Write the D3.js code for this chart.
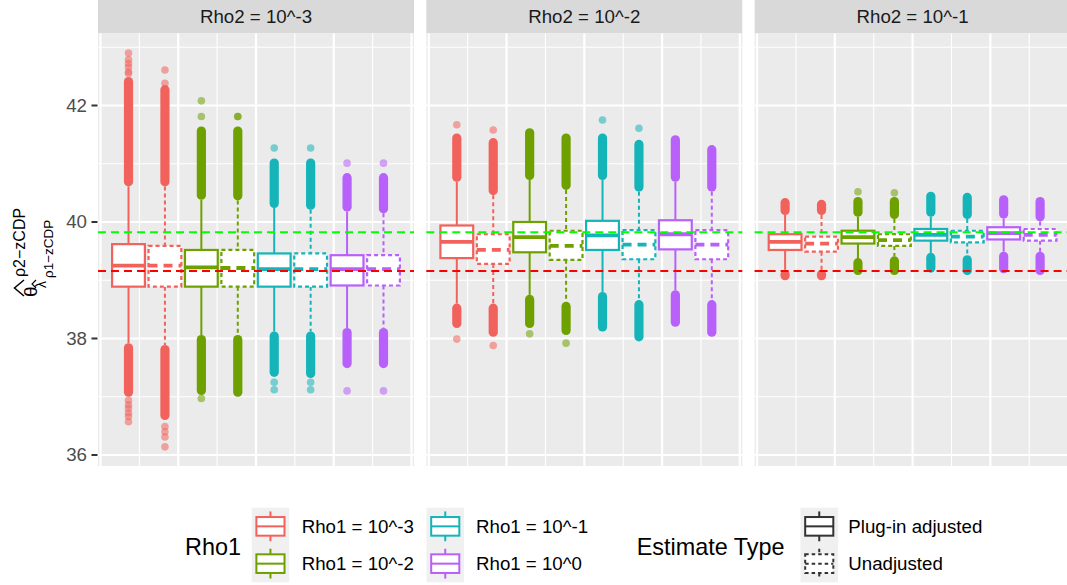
<!DOCTYPE html>
<html>
<head>
<meta charset="utf-8">
<script src="https://cdn.jsdelivr.net/npm/d3@7/dist/d3.min.js"></script>
<style>
  body { margin: 0; background: #fff; }
  text { font-family: "Liberation Sans", Arial, sans-serif; }
</style>
</head>
<body>
<div id="chart"></div>
<script>
// facet strips, fill groups and linetype groups
const panels = ["Rho2 = 10^-3", "Rho2 = 10^-2", "Rho2 = 10^-1"]
const rho1Levels = ["Rho1 = 10^-3", "Rho1 = 10^-2", "Rho1 = 10^-1", "Rho1 = 10^0"]
const estimateTypes = ["Plug-in adjusted", "Unadjusted"]
const rho1Colors = ["#F2625D", "#6EA000", "#14B4B9", "#B860FA"]
const yTicks = [36, 38, 40, 42]
const yMinor = [37, 39, 41, 43]
const refGreen = 39.823
const refRed = 39.159

// box stats per panel, order: rho1 x type -> [lower whisker, q1, median, q3, upper whisker]
const stats_rho2_3 = [
  [37.92, 38.89, 39.25, 39.62, 40.61], [37.89, 38.89, 39.25, 39.59, 40.61],
  [38.06, 38.89, 39.22, 39.52, 40.38], [38.06, 38.89, 39.21, 39.52, 40.37],
  [38.12, 38.89, 39.19, 39.46, 40.24], [38.12, 38.89, 39.19, 39.46, 40.21],
  [38.18, 38.91, 39.19, 39.43, 40.18], [38.18, 38.91, 39.19, 39.43, 40.15]
]
const stats_rho2_2 = [
  [38.60, 39.38, 39.66, 39.94, 40.69], [38.60, 39.28, 39.52, 39.79, 40.46],
  [38.75, 39.48, 39.74, 40.00, 40.72], [38.63, 39.35, 39.59, 39.85, 40.55],
  [38.80, 39.52, 39.77, 40.02, 40.72], [38.66, 39.36, 39.61, 39.86, 40.52],
  [38.83, 39.53, 39.79, 40.03, 40.69], [38.66, 39.36, 39.61, 39.86, 40.52]
]
const stats_rho2_1 = [
  [39.18, 39.52, 39.66, 39.79, 40.12], [39.18, 39.49, 39.63, 39.75, 40.12],
  [39.38, 39.63, 39.74, 39.85, 40.09], [39.41, 39.59, 39.69, 39.79, 40.05],
  [39.47, 39.68, 39.78, 39.88, 40.09], [39.43, 39.65, 39.75, 39.85, 40.05],
  [39.49, 39.70, 39.81, 39.91, 40.06], [39.49, 39.68, 39.78, 39.88, 40.01]
]

// dense outlier columns [low, high], upper then lower
const upperDense_rho2_3 = [[40.61, 42.49], [40.61, 42.35], [40.38, 41.64], [40.37, 41.64], [40.24, 41.09], [40.21, 41.09], [40.18, 40.84], [40.15, 40.84]]
const lowerDense_rho2_3 = [[37.00, 37.92], [36.60, 37.89], [37.03, 38.06], [37.00, 38.06], [37.34, 38.12], [37.32, 38.12], [37.49, 38.18], [37.49, 38.18]]
const upperDense_rho2_2 = [[40.69, 41.52], [40.46, 41.44], [40.72, 41.61], [40.55, 41.52], [40.72, 41.52], [40.52, 41.41], [40.69, 41.49], [40.52, 41.32]]
const lowerDense_rho2_2 = [[38.18, 38.60], [38.03, 38.60], [38.18, 38.75], [38.06, 38.63], [38.12, 38.80], [37.95, 38.66], [38.20, 38.83], [38.03, 38.66]]
const upperDense_rho2_1 = [[40.12, 40.41], [40.12, 40.38], [40.09, 40.43], [40.05, 40.43], [40.09, 40.52], [40.05, 40.50], [40.06, 40.46], [40.01, 40.43]]
const lowerDense_rho2_1 = [[39.00, 39.18], [39.00, 39.18], [39.09, 39.38], [39.09, 39.41], [39.13, 39.47], [39.09, 39.43], [39.12, 39.49], [39.09, 39.49]]

// isolated outliers
const sparse_rho2_3 = [
  [42.90, 42.79, 42.72, 42.66, 42.58, 42.55, 36.94, 36.86, 36.80, 36.72, 36.66, 36.57],
  [42.61, 42.38, 36.49, 36.40, 36.31, 36.14],
  [42.08, 41.81, 36.97],
  [41.81, 41.81],
  [41.27, 37.25, 37.12],
  [41.27, 37.25, 37.12],
  [41.01, 37.10],
  [41.01, 37.10]
]
const sparse_rho2_2 = [[41.67, 37.99], [41.58, 37.88], [38.08], [37.92], [41.75], [41.61], [], []]
const sparse_rho2_1 = [[], [], [40.52], [40.50], [], [], [], []]

const panelStats = [stats_rho2_3, stats_rho2_2, stats_rho2_1]
const panelUpper = [upperDense_rho2_3, upperDense_rho2_2, upperDense_rho2_1]
const panelLower = [lowerDense_rho2_3, lowerDense_rho2_2, lowerDense_rho2_1]
const panelSparse = [sparse_rho2_3, sparse_rho2_2, sparse_rho2_1]

const w = 1067
const h = 585
const panelTop = 33.5
const panelBottom = 466
const stripTop = 0

const svg = d3.select('#chart').append('svg')
  .attr('width', w).attr('height', h)
  .style('display', 'block')
svg.append('rect').attr('width', w).attr('height', h).attr('fill', '#fff')

const xPanel = d3.scaleBand().domain(panels).range([98, 1070.6]).paddingInner(0.03747).paddingOuter(0)
const pw = xPanel.bandwidth()
const y = d3.scaleLinear().domain([35.811, 43.236]).range([panelBottom, panelTop])
const xIn = d3.scaleLinear().domain([-1.016, 1.016]).range([0, pw])

const groups = []
rho1Levels.forEach((r, i) => estimateTypes.forEach((t, j) => groups.push({ rho1: r, type: t, ci: i, dashed: j === 1 })))
const dodge = d3.scaleBand().domain(d3.range(groups.length)).range([xIn(-0.937), xIn(0.937)])
const color = d3.scaleOrdinal().domain(rho1Levels).range(rho1Colors)
const boxW = dodge.bandwidth() * 0.9
const ptR = 3.8

panels.forEach((p, pi) => {
  const g = svg.append('g').attr('transform', 'translate(' + xPanel(p) + ',0)')
  // strip
  g.append('rect').attr('x', 0).attr('y', stripTop).attr('width', pw).attr('height', panelTop - stripTop).attr('fill', '#D9D9D9')
  g.append('text').attr('x', pw / 2).attr('y', (panelTop + stripTop) / 2).attr('text-anchor', 'middle')
    .attr('dominant-baseline', 'central').attr('font-size', 18.7).attr('fill', '#1A1A1A').text(p)
  // panel
  g.append('rect').attr('x', 0).attr('y', panelTop).attr('width', pw).attr('height', panelBottom - panelTop).attr('fill', '#EBEBEB')
  const pg = g.append('g')
  pg.selectAll('.hminor').data(yMinor).enter().append('line')
    .attr('x1', 0).attr('x2', pw).attr('y1', d => y(d)).attr('y2', d => y(d))
    .attr('stroke', '#fff').attr('stroke-width', 1.1)
  pg.selectAll('.vminor').data([-0.75, -0.25, 0.25, 0.75]).enter().append('line')
    .attr('x1', d => xIn(d)).attr('x2', d => xIn(d)).attr('y1', panelTop).attr('y2', panelBottom)
    .attr('stroke', '#fff').attr('stroke-width', 1.1)
  pg.selectAll('.hmajor').data(yTicks).enter().append('line')
    .attr('x1', 0).attr('x2', pw).attr('y1', d => y(d)).attr('y2', d => y(d))
    .attr('stroke', '#fff').attr('stroke-width', 2.2)
  pg.selectAll('.vmajor').data([-1, -0.5, 0, 0.5, 1]).enter().append('line')
    .attr('x1', d => xIn(d)).attr('x2', d => xIn(d)).attr('y1', panelTop).attr('y2', panelBottom)
    .attr('stroke', '#fff').attr('stroke-width', 2.2)

  groups.forEach((gr, k) => {
    const cx = dodge(k) + dodge.bandwidth() / 2
    const col = color(gr.rho1)
    const s = panelStats[pi][k]
    const bg = pg.append('g')
    // dense outlier columns
    ;[panelUpper[pi][k], panelLower[pi][k]].forEach(r => {
      bg.append('rect').attr('x', cx - ptR - 0.8).attr('width', 2 * ptR + 1.6)
        .attr('y', y(r[1])).attr('height', Math.max(0, y(r[0]) - y(r[1])))
        .attr('rx', ptR + 0.8).attr('fill', col)
    })
    bg.selectAll('circle').data(panelSparse[pi][k]).enter().append('circle')
      .attr('cx', cx).attr('cy', d => y(d)).attr('r', ptR).attr('fill', col).attr('opacity', 0.55)
    const dash = gr.dashed ? '4,3' : null
    // whiskers
    bg.append('line').attr('x1', cx).attr('x2', cx).attr('y1', y(s[4])).attr('y2', y(s[3]))
      .attr('stroke', col).attr('stroke-width', 2).attr('stroke-dasharray', dash)
    bg.append('line').attr('x1', cx).attr('x2', cx).attr('y1', y(s[1])).attr('y2', y(s[0]))
      .attr('stroke', col).attr('stroke-width', 2).attr('stroke-dasharray', dash)
    bg.append('rect').attr('x', cx - boxW / 2).attr('width', boxW)
      .attr('y', y(s[3])).attr('height', y(s[1]) - y(s[3]))
      .attr('fill', '#fff').attr('stroke', col).attr('stroke-width', 2.2).attr('stroke-dasharray', dash)
    bg.append('line').attr('x1', cx - boxW / 2).attr('x2', cx + boxW / 2).attr('y1', y(s[2])).attr('y2', y(s[2]))
      .attr('stroke', col).attr('stroke-width', 3.8).attr('stroke-dasharray', gr.dashed ? '9,6' : null)
  })

  // reference lines
  ;[[refGreen, '#00FF00'], [refRed, '#FF0000']].forEach(rl => {
    pg.append('line').attr('x1', 0).attr('x2', pw).attr('y1', y(rl[0])).attr('y2', y(rl[0]))
      .attr('stroke', rl[1]).attr('stroke-width', 2).attr('stroke-dasharray', '8,5')
  })
})

// y axis
const ax = svg.append('g')
ax.selectAll('line').data(yTicks).enter().append('line')
  .attr('x1', 91.5).attr('x2', 97.5).attr('y1', d => y(d)).attr('y2', d => y(d))
  .attr('stroke', '#333333').attr('stroke-width', 2)
ax.selectAll('text').data(yTicks).enter().append('text')
  .attr('x', 87).attr('y', d => y(d)).attr('text-anchor', 'end').attr('dominant-baseline', 'central')
  .attr('font-size', 18.7).attr('fill', '#4D4D4D').text(d => d)

// y axis title: hat(theta)[hat(lambda)[rho1-zCDP]]^(rho2-zCDP)
const yt = svg.append('g').attr('transform', 'translate(37,297) rotate(-90)')
yt.append('text').attr('x', 0).attr('y', 0).attr('font-size', 19).attr('fill', '#000').text('θ')
yt.append('path').attr('d', 'M1,-13 L9,-22.5 L17,-13').attr('fill', 'none').attr('stroke', '#000').attr('stroke-width', 1.5)
yt.append('text').attr('x', 20).attr('y', -12).attr('font-size', 16).attr('fill', '#000').text('ρ2−zCDP')
yt.append('text').attr('x', 9).attr('y', 8.5).attr('font-size', 14).attr('fill', '#000').text('λ')
yt.append('path').attr('d', 'M9,-1 L13,-5 L17,-1').attr('fill', 'none').attr('stroke', '#000').attr('stroke-width', 1.1)
yt.append('text').attr('x', 19).attr('y', 15.5).attr('font-size', 13.5).attr('fill', '#000').text('ρ1−zCDP')

// legends
const keyW = 37.5
const keyH = 37.3
const legTop = 507.7
function keyGlyph(gk, col, dashed) {
  gk.append('rect').attr('width', keyW).attr('height', keyH).attr('fill', '#F0F0F0')
  const dash = dashed ? '3.5,3' : null
  gk.append('line').attr('x1', keyW / 2).attr('x2', keyW / 2).attr('y1', keyH * 0.1).attr('y2', keyH * 0.25)
    .attr('stroke', col).attr('stroke-width', 2).attr('stroke-dasharray', dash)
  gk.append('line').attr('x1', keyW / 2).attr('x2', keyW / 2).attr('y1', keyH * 0.75).attr('y2', keyH * 0.9)
    .attr('stroke', col).attr('stroke-width', 2).attr('stroke-dasharray', dash)
  gk.append('rect').attr('x', keyW * 0.125).attr('width', keyW * 0.75).attr('y', keyH * 0.25).attr('height', keyH * 0.5)
    .attr('fill', '#fff').attr('stroke', col).attr('stroke-width', 2).attr('stroke-dasharray', dash)
  gk.append('line').attr('x1', keyW * 0.125).attr('x2', keyW * 0.875).attr('y1', keyH / 2).attr('y2', keyH / 2)
    .attr('stroke', col).attr('stroke-width', 2).attr('stroke-dasharray', dash)
}

svg.append('text').attr('x', 185).attr('y', 547).attr('dominant-baseline', 'central')
  .attr('font-size', 23.4).attr('fill', '#000').text('Rho1')
const rhoKeyX = [251.7, 426.5]
const rhoLabX = [301.7, 476]
rho1Levels.forEach((r, i) => {
  const c = Math.floor(i / 2), rr = i % 2
  const gk = svg.append('g').attr('transform', 'translate(' + rhoKeyX[c] + ',' + (legTop + rr * keyH) + ')')
  keyGlyph(gk, color(r), false)
  svg.append('text').attr('x', rhoLabX[c]).attr('y', legTop + rr * keyH + keyH / 2).attr('dominant-baseline', 'central')
    .attr('font-size', 18.7).attr('fill', '#000').text(r)
})

svg.append('text').attr('x', 636.7).attr('y', 547).attr('dominant-baseline', 'central')
  .attr('font-size', 23.4).attr('fill', '#000').text('Estimate Type')
estimateTypes.forEach((t, i) => {
  const gk = svg.append('g').attr('transform', 'translate(800.5,' + (legTop + i * keyH) + ')')
  keyGlyph(gk, '#333333', i === 1)
  svg.append('text').attr('x', 848.3).attr('y', legTop + i * keyH + keyH / 2).attr('dominant-baseline', 'central')
    .attr('font-size', 18.7).attr('fill', '#000').text(t)
})
</script>
</body>
</html>
